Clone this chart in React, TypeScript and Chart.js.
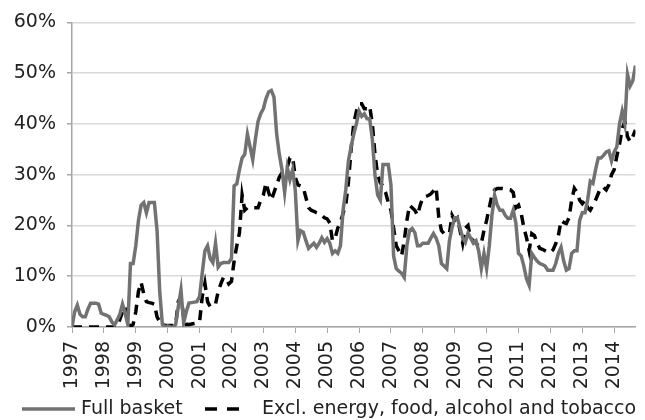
import React, { useEffect, useRef } from "react";
import { Chart, registerables } from "chart.js";

Chart.register(...registerables);

const startYear = 1997;
const yearTicks = [1997, 1998, 1999, 2000, 2001, 2002, 2003, 2004, 2005, 2006, 2007, 2008, 2009, 2010, 2011, 2012, 2013, 2014];
const yTicks = [0, 10, 20, 30, 40, 50, 60];
const seriesLabels = ["Full basket", "Excl. energy, food, alcohol and tobacco"];

// Monthly values, Jan 1997 .. Sep 2014 (percent)
const fullBasket = [
  0, 3, 4.3, 2.5, 2, 2, 3.5, 4.7, 4.7, 4.7, 4.5, 2.7, // 1997
  2.5, 2.3, 2, 1, 0.4, 1.4, 2.5, 4.5, 2.7, 0.5, 12.5, 12.5, // 1998
  16, 21, 24, 24.5, 22.5, 24.5, 24.5, 24.5, 19, 7, 0.5, 0, // 1999
  0.2, 0, 0, 0.5, 4, 7.3, 0.8, 3, 4.7, 4.8, 4.9, 5, // 2000
  6, 10.6, 15, 16, 13.5, 12.7, 16.5, 11.8, 12.5, 12.7, 12.7, 12.7, // 2001
  13.5, 27.8, 28.2, 31, 33.3, 34, 38, 35.5, 33, 37, 40.5, 42, // 2002
  43, 45, 46.3, 46.6, 45.3, 38, 34, 31, 26.5, 31.4, 29, 31, // 2003
  27, 17, 19, 18.7, 17, 15.5, 16, 16.5, 15.7, 16.5, 17.6, 16.7, // 2004
  17.4, 16.5, 14.5, 15, 14.5, 16, 23, 27, 32.7, 35.5, 38, 40, // 2005
  42.5, 41.5, 42, 41, 41, 37, 30, 26, 25, 32, 32, 32, // 2006
  28, 14, 11.5, 11, 10.6, 9.8, 16, 19, 19.4, 18.6, 16, 16, // 2007
  16.5, 16.5, 16.5, 17.5, 18.4, 17.5, 16, 12.5, 12, 11.5, 17, 19.6, // 2008
  21.5, 21.5, 19.5, 17.6, 16.7, 18.5, 17.5, 16.5, 17, 15, 11.5, 14.5, // 2009
  11.5, 16, 22, 26, 24, 23, 23, 22, 21.4, 21.4, 23, 20.5, // 2010
  14.5, 14, 12, 9.5, 8.2, 14.5, 13.7, 13, 12.5, 12.3, 12, 11.2, // 2011
  11.2, 11.2, 12.5, 14.5, 15.7, 13, 11.2, 11.5, 14.5, 15, 15, 21, // 2012
  22.5, 22.5, 25, 28.7, 28.3, 31, 33.3, 33.3, 33.8, 34.5, 34.7, 32.7, // 2013
  34.5, 35.5, 40, 42.5, 40, 49.8, 47.5, 48.5, 51.5, // 2014
];

const exclEnergyFood = [
  0, 0, 0, 0, 0, 0, 0, 0, 0, 0, 0, 0, // 1997
  0, 0, 0, 0, 0, 0, 1.5, 3, 4, 1, 0, 0.5, // 1998
  3, 7, 8.8, 6.5, 5, 4.8, 4.7, 4.5, 2, 1, 0.5, 0.3, // 1999
  0.3, 0.3, 0.3, 0.5, 5, 6, 2, 0.5, 0.5, 0.6, 0.7, 0.8, // 2000
  1, 6, 8.6, 5, 4, 4.3, 4.5, 7, 8.5, 9.8, 9.5, 8.5, // 2001
  9, 13, 16, 18.5, 26, 23, 23.5, 23.5, 23.5, 23.5, 23.5, 25, // 2002
  26, 28.4, 26.5, 25, 26.5, 28, 29.5, 30.4, 31, 31.5, 33.3, 33.5, // 2003
  29.5, 28, 27.8, 27.5, 25.5, 23.5, 23, 22.8, 22.5, 22.3, 22, 21.5, // 2004
  21.3, 20.5, 17, 17.5, 19.5, 20.6, 22.4, 24, 28.5, 35, 40, 42.5, // 2005
  44, 44, 43, 43, 43.5, 40, 34, 30, 28.4, 27.8, 26.5, 24.5, // 2006
  23, 19.5, 16, 15, 14, 17, 21, 24, 23.5, 23, 22, 24, // 2007
  25.5, 25.7, 25.9, 26.2, 26.8, 27.5, 21.6, 19, 18.4, 18.4, 18.4, 22, // 2008
  21, 21.5, 19, 16.5, 19.5, 20, 17.5, 17, 16.5, 16, 16.5, 19, // 2009
  21, 23.5, 26, 27, 27.3, 27.3, 27.3, 27.2, 27.1, 27, 26.5, 23.5, // 2010
  24, 22.4, 19.6, 17.6, 15, 18.4, 18, 16.5, 15.5, 15.3, 15, 14.7, // 2011
  14.7, 15.2, 16.4, 18, 21, 20.6, 20.4, 21.5, 25, 27.3, 26.5, 25, // 2012
  24.3, 25, 23.5, 23, 24, 25, 26.3, 27.5, 27.5, 27, 28, 30, // 2013
  31, 33.7, 36, 39, 40.5, 37.5, 36.5, 37.5, 38.8, // 2014
];

const FONT = "'DejaVu Sans', Verdana, sans-serif";
const TEXT = "#222222";

const toPoints = (vals: number[]) => vals.map((v, i) => ({ x: startYear + i / 12, y: v }));

const legendPlugin = {
  id: "bottomLegend",
  afterDraw(chart: any) {
    const ctx = chart.ctx;
    const ds = chart.data.datasets;
    const y = 409;
    ctx.save();
    ctx.font = `19px ${FONT}`;
    ctx.fillStyle = TEXT;
    ctx.textBaseline = "middle";
    ctx.textAlign = "left";
    ctx.strokeStyle = ds[0].borderColor;
    ctx.lineWidth = ds[0].borderWidth;
    ctx.setLineDash([]);
    ctx.beginPath();
    ctx.moveTo(22, y);
    ctx.lineTo(75, y);
    ctx.stroke();
    ctx.fillText(ds[0].label, 81, y);
    ctx.strokeStyle = ds[1].borderColor;
    ctx.lineWidth = ds[1].borderWidth;
    ctx.setLineDash([12, 10]);
    ctx.beginPath();
    ctx.moveTo(205, y);
    ctx.lineTo(241, y);
    ctx.stroke();
    ctx.setLineDash([]);
    ctx.fillText(ds[1].label, 262, y);
    ctx.restore();
  },
};

export default function App() {
  const ref = useRef<HTMLCanvasElement>(null);
  useEffect(() => {
    if (!ref.current) return;
    const chart = new Chart(ref.current, {
      type: "line",
      data: {
        datasets: [
          {
            label: seriesLabels[0],
            data: toPoints(fullBasket),
            borderColor: "#727272",
            borderWidth: 3.5,
            pointRadius: 0,
            tension: 0,
            fill: false,
          },
          {
            label: seriesLabels[1],
            data: toPoints(exclEnergyFood),
            borderColor: "#000000",
            borderWidth: 3.5,
            borderDash: [10, 7],
            pointRadius: 0,
            tension: 0,
            fill: false,
          },
        ],
      },
      options: {
        animation: false,
        responsive: false,
        devicePixelRatio: 1,
        layout: { padding: { top: 21, right: 0, left: 0, bottom: 0 } },
        plugins: { legend: { display: false }, tooltip: { enabled: false } },
        scales: {
          x: {
            type: "linear",
            min: yearTicks[0],
            max: startYear + (fullBasket.length - 1) / 12,
            afterBuildTicks: (s: any) => { s.ticks = yearTicks.map((v) => ({ value: v })); },
            afterCalculateLabelRotation: (s: any) => { s.labelRotation = 90; },
            afterFit: (s: any) => { s.height = 93; },
            ticks: {
              autoSkip: false,
              minRotation: 90,
              maxRotation: 90,
              padding: 8,
              color: TEXT,
              font: { family: FONT, size: 19 },
              callback: (v: any) => String(v),
            },
            grid: { drawOnChartArea: false, drawTicks: true, tickLength: 6, tickColor: "#a6a6a6", color: "#a6a6a6" },
            border: { display: true, color: "#a6a6a6", width: 1.5 },
          },
          y: {
            min: yTicks[0],
            max: yTicks[yTicks.length - 1],
            afterFit: (s: any) => { s.width = 72; },
            afterBuildTicks: (s: any) => { s.ticks = yTicks.map((v) => ({ value: v })); },
            ticks: {
              padding: 11,
              color: TEXT,
              font: { family: FONT, size: 19 },
              callback: (v: any) => `${v}%`,
            },
            grid: { color: "#d9d9d9", lineWidth: 1.5, tickLength: 5, tickColor: "#a6a6a6" },
            border: { display: true, color: "#a6a6a6", width: 1.5 },
          },
        },
      },
      plugins: [legendPlugin],
    });
    return () => chart.destroy();
  }, []);
  return (
    <div style={{ position: "fixed", left: 0, top: 0, width: 645, height: 420, background: "#fff" }}>
      <canvas ref={ref} width={645} height={420} style={{ width: 645, height: 420, display: "block" }} />
    </div>
  );
}
